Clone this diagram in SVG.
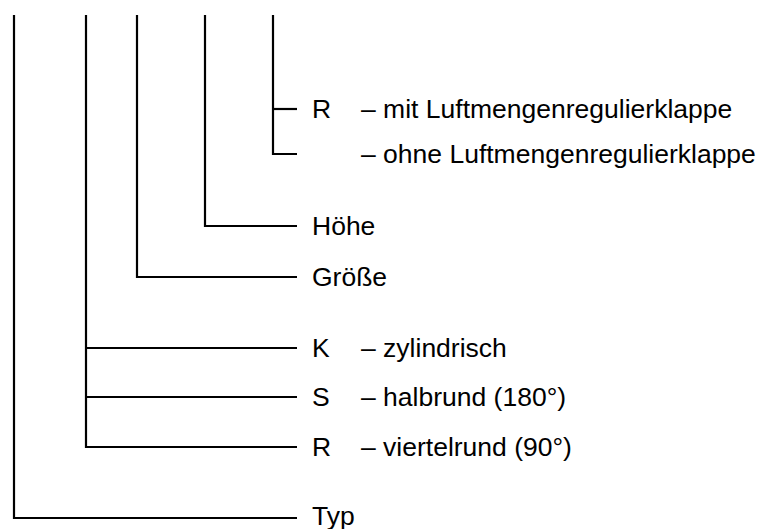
<svg xmlns="http://www.w3.org/2000/svg" width="765" height="529" viewBox="0 0 765 529">
<style>
.c{fill:none;stroke:#000;stroke-width:2.2}
text{font-family:"Liberation Sans",Arial,sans-serif;font-size:26.5px;fill:#000}
</style>
<rect width="765" height="529" fill="#fff"/>
<g id="connectors">
<polyline class="c" points="14,15 14,518 297,518"/>
<polyline class="c" points="86,15 86,447 297,447"/>
<line class="c" x1="86" y1="397" x2="297" y2="397"/>
<line class="c" x1="86" y1="348" x2="297" y2="348"/>
<polyline class="c" points="137,15 137,277 297,277"/>
<polyline class="c" points="205,15 205,226 297,226"/>
<polyline class="c" points="273,15 273,154 297,154"/>
<line class="c" x1="273" y1="109" x2="297" y2="109"/>
</g>
<g id="n-r-mit"><text x="312" y="117.5">R</text><text x="361" y="117.5">– mit Luftmengenregulierklappe</text></g>
<g id="n-ohne"><text x="361" y="162.5">– ohne Luftmengenregulierklappe</text></g>
<g id="n-hoehe"><text x="312" y="234.5">Höhe</text></g>
<g id="n-groesse"><text x="312" y="285.5">Größe</text></g>
<g id="n-k"><text x="312" y="356.5">K</text><text x="361" y="356.5">– zylindrisch</text></g>
<g id="n-s"><text x="312" y="405.5">S</text><text x="361" y="405.5">– halbrund (180°)</text></g>
<g id="n-r"><text x="312" y="455.5">R</text><text x="361" y="455.5">– viertelrund (90°)</text></g>
<g id="n-typ"><text x="312" y="525">Typ</text></g>
</svg>
